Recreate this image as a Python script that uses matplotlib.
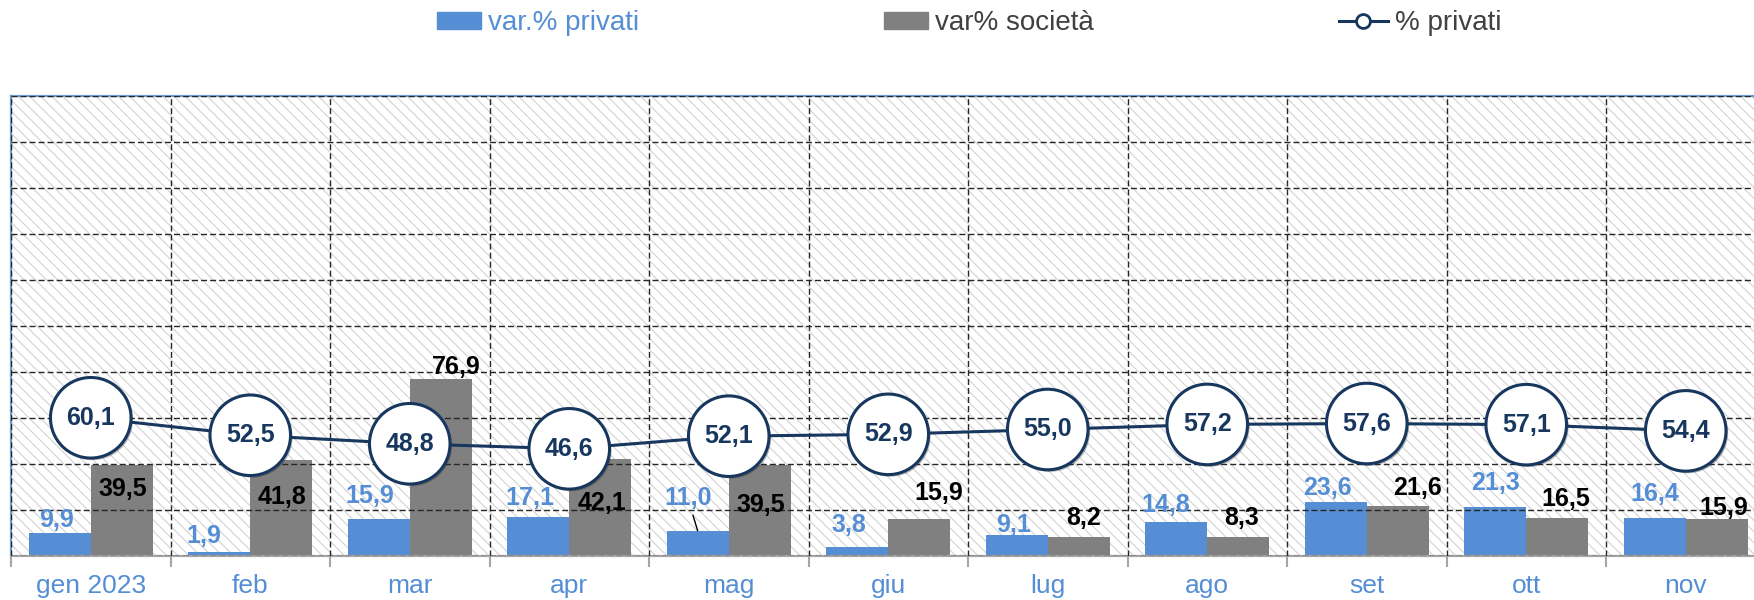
import matplotlib
matplotlib.use('Agg')
import matplotlib.pyplot as plt
import matplotlib.patheffects as pe
from matplotlib.patches import Rectangle, Patch
from matplotlib.lines import Line2D

# data
months = ['gen 2023', 'feb', 'mar', 'apr', 'mag', 'giu', 'lug', 'ago', 'set', 'ott', 'nov']
var_privati = [9.9, 1.9, 15.9, 17.1, 11.0, 3.8, 9.1, 14.8, 23.6, 21.3, 16.4]
var_societa = [39.5, 41.8, 76.9, 42.1, 39.5, 15.9, 8.2, 8.3, 21.6, 16.5, 15.9]
pct_privati = [60.1, 52.5, 48.8, 46.6, 52.1, 52.9, 55.0, 57.2, 57.6, 57.1, 54.4]

# label nudges (pixels), as placed by hand in the original
blue_off = [(-3, 13), (-15, 16), (-9, 23), (-8, 19), (-10, 33), (-8, 22),
            (-3, 10), (-10, 17), (-8, 14), (0, 24), (0, 24)]
gray_off = [(1, -24), (1, -37), (15, 12), (2, -44), (1, -40), (19, 26),
            (5, 19), (3, 19), (20, 18), (8, 19), (7, 11)]
leader = {4}

BLUE = '#558ED5'
GRAY = '#808080'
NAVY = '#17375E'
DARK = '#404040'

plt.rcParams['font.family'] = ['Liberation Sans', 'DejaVu Sans']
plt.rcParams['hatch.linewidth'] = 0.8


def fmt(v):
    return f'{v:.1f}'.replace('.', ',')


fig = plt.figure(figsize=(17.54, 6), dpi=100)
ax = fig.add_axes([11 / 1754, 44 / 600, 1754.5 / 1754, 460 / 600])

# hatched plot area
ax.add_patch(Rectangle((0, 0), 1, 1, transform=ax.transAxes, facecolor='white',
                       edgecolor='#D2D2D2', hatch='\\\\\\', lw=0, zorder=0))

x = list(range(len(months)))
w = 0.39
xb = [i - w / 2 for i in x]
xg = [i + w / 2 for i in x]
ax.bar(xb, var_privati, width=w, color=BLUE, zorder=2)
ax.bar(xg, var_societa, width=w, color=GRAY, zorder=2)

ax.plot(x, pct_privati, color=NAVY, lw=2.2, zorder=3)
ax.plot(x, pct_privati, ls='none', marker='o', ms=58, mfc='white', mec=NAVY, mew=2.2,
        zorder=4, path_effects=[pe.SimplePatchShadow(offset=(1.5, -1.5), shadow_rgbFace='#303030',
                                                     alpha=0.35), pe.Normal()])

for i in x:
    ax.text(i, pct_privati[i], fmt(pct_privati[i]), ha='center', va='center',
            fontsize=18, fontweight='bold', color=NAVY, zorder=5)
    arrow = dict(arrowstyle='-', color='black', lw=1, shrinkB=0) if i in leader else None
    ax.annotate(fmt(var_privati[i]), xy=(xb[i], var_privati[i]), xytext=blue_off[i],
                textcoords='offset pixels', ha='center', va='center', fontsize=18,
                fontweight='bold', color=BLUE, zorder=5, arrowprops=arrow)
    ax.annotate(fmt(var_societa[i]), xy=(xg[i], var_societa[i]), xytext=gray_off[i],
                textcoords='offset pixels', ha='center', va='center', fontsize=18,
                fontweight='bold', color='black', zorder=5)

ax.set_xlim(-0.5, len(months) - 0.5)
ax.set_ylim(0, 200)
ax.set_yticks(range(0, 201, 20))
ax.set_yticklabels([])
ax.tick_params(axis='y', length=0)

ax.set_xticks(x)
ax.set_xticklabels(months, fontsize=19, color=BLUE)
ax.set_xticks([i - 0.5 for i in x], minor=True)
ax.tick_params(axis='x', which='major', length=0, pad=13)
ax.tick_params(axis='x', which='minor', length=8, width=1.5, color='#A6A6A6', direction='out')

ax.set_axisbelow(False)
grid_kw = dict(color='#262626', lw=1.0, ls=(0, (4.3, 2.2)), zorder=1)
ax.grid(axis='y', which='major', **grid_kw)
ax.grid(axis='x', which='minor', **grid_kw)

ax.spines['right'].set_visible(False)
for side in ('left', 'top'):
    ax.spines[side].set_color('#6C9BD2')
    ax.spines[side].set_linewidth(1.6)
ax.spines['bottom'].set_color('#A6A6A6')
ax.spines['bottom'].set_linewidth(1.6)

# legend entries placed one by one along the top
entries = [
    (Patch(color=BLUE), 'var.% privati', BLUE, 437, 1.6),
    (Patch(color=GRAY), 'var% società', DARK, 884, 1.6),
    (Line2D([], [], color=NAVY, lw=2.2, marker='o', ms=10, mfc='white', mec=NAVY, mew=2),
     '% privati', DARK, 1339, 1.75),
]
for handle, label, col, xpos, hl in entries:
    leg = fig.legend([handle], [label], loc='center left', bbox_to_anchor=(xpos / 1754, 1 - 23 / 600),
                     frameon=False, fontsize=20, handlelength=hl, handleheight=0.55,
                     handletextpad=0.25, borderpad=0, borderaxespad=0)
    leg.get_texts()[0].set_color(col)

fig.savefig('out.png', dpi=100)
